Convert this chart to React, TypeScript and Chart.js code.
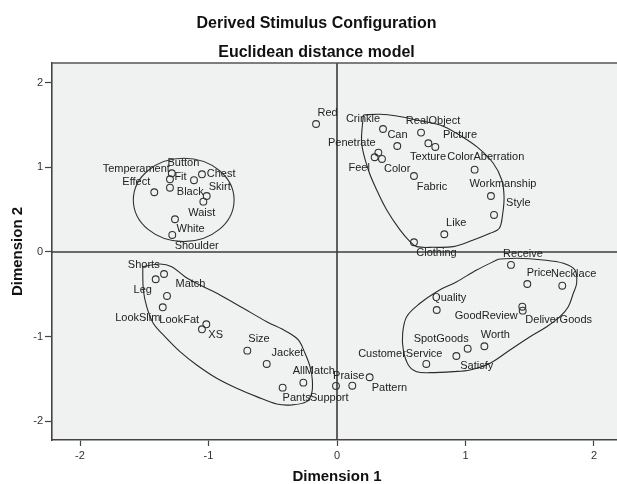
import React, { useEffect, useRef } from "react";
import { Chart, registerables } from "chart.js";

Chart.register(...registerables);

// ---------- data ----------
const titleLines = ["Derived Stimulus Configuration", "Euclidean distance model"];
const xAxisTitle = "Dimension 1";
const yAxisTitle = "Dimension 2";
const tickValues = [-2, -1, 0, 1, 2];

const stimulusNames = [
  "Button", "Temperament", "Black", "Effect", "Fit", "Chest", "Skirt", "Waist", "White", "Shoulder",
  "Red",
  "Crinkle", "Can", "RealObject", "Texture", "Picture", "ColorAberration", "Penetrate", "Feel", "Color",
  "Fabric", "Workmanship", "Style", "Like", "Clothing",
  "Shorts", "Leg", "Match", "LookSlim", "LookFat", "XS", "Size", "Jacket", "AllMatch", "Pants",
  "Support", "Praise", "Pattern",
  "Receive", "Price", "Necklace", "Quality", "GoodReview", "DeliverGoods", "Worth", "SpotGoods", "Satisfy",
  "CustomerService",
];

const dimension1 = [
  -1.286, -1.300, -1.300, -1.422, -1.113, -1.051, -1.014, -1.040, -1.261, -1.282,
  -0.163,
  0.358, 0.469, 0.654, 0.711, 0.765, 1.071, 0.322, 0.293, 0.350,
  0.599, 1.198, 1.222, 0.835, 0.599,
  -1.346, -1.411, -1.323, -1.356, -1.017, -1.051, -0.698, -0.547, -0.262, -0.423,
  -0.008, 0.119, 0.254,
  1.354, 1.481, 1.753, 0.776, 1.442, 1.445, 1.147, 1.017, 0.929,
  0.695,
];

const dimension2 = [
  0.929, 0.858, 0.759, 0.705, 0.847, 0.917, 0.661, 0.594, 0.386, 0.201,
  1.511,
  1.452, 1.251, 1.409, 1.283, 1.240, 0.972, 1.173, 1.118, 1.098,
  0.897, 0.661, 0.437, 0.209, 0.115,
  -0.260, -0.322, -0.519, -0.653, -0.854, -0.913, -1.165, -1.322, -1.543, -1.602,
  -1.582, -1.579, -1.479,
  -0.153, -0.378, -0.398, -0.685, -0.646, -0.693, -1.113, -1.142, -1.228,
  -1.322,
];

// label placement (pixel offsets of the label centre from its point) – styling only
const labelDx = [
  11.6, -33.7, 20.3, -18, -13.5, 19.2, 13, -1.6, 15.7, 24.4,
  11.5,
  -20, 0.2, 12, -0.3, 24.7, 11.1, -26.6, -15.5, 15.2,
  18, 12, 24.3, 11.9, 22.5,
  -20.3, -12.9, 23.5, -25, -27.1, 13.7, 11.7, 20.8, 10.4, 14,
  -6.7, -3.6, 19.8,
  12, 11.9, 11.4, 12.5, -36, 36, 11, -26.5, 20.4,
  -26,
];
const labelDy = [
  -10.6, -10, 4, -10, -3, 0, -9.3, 11, 10, 11,
  -11.3,
  -9.7, -11, -11.4, 14, -12, -12.4, -9.4, 10.4, 10.3,
  10.7, -12, -11.7, -11.6, 10.4,
  -9, 10.7, -11.7, 11, -4.3, 5.7, -11.4, -10.7, -12, 10,
  11.7, -10, 10.7,
  -11, -11.3, -11.7, -11.7, 9.3, 9.3, -11.3, -9.7, 10,
  -10,
];

// cluster outlines (data units)
const outlineUpperRight: [number, number][] = [
  [0.205, 1.617], [0.335, 1.626], [0.465, 1.606], [0.620, 1.558], [0.802, 1.499], [0.930, 1.401],
  [1.087, 1.243], [1.216, 1.047], [1.282, 0.850], [1.300, 0.653], [1.290, 0.457], [1.263, 0.280],
  [1.191, 0.221], [1.061, 0.142], [0.905, 0.063], [0.749, 0.055], [0.620, 0.063], [0.568, 0.122],
  [0.490, 0.260], [0.387, 0.496], [0.309, 0.732], [0.244, 0.968], [0.192, 1.283], [0.205, 1.617],
];
const outlineLowerLeft: [number, number][] = [
  [-1.512, -0.174], [-1.377, -0.142], [-1.286, -0.174], [-1.183, -0.292], [-1.066, -0.390],
  [-0.911, -0.508], [-0.729, -0.665], [-0.547, -0.823], [-0.391, -0.941], [-0.301, -1.039],
  [-0.249, -1.196], [-0.210, -1.354], [-0.192, -1.511], [-0.197, -1.668], [-0.236, -1.767],
  [-0.353, -1.806], [-0.469, -1.795], [-0.625, -1.708], [-0.781, -1.609], [-0.936, -1.491],
  [-1.092, -1.334], [-1.222, -1.177], [-1.339, -1.000], [-1.430, -0.842], [-1.481, -0.646],
  [-1.507, -0.449], [-1.512, -0.174],
];
const outlineLowerRight: [number, number][] = [
  [1.255, -0.086], [1.398, -0.074], [1.605, -0.094], [1.761, -0.133], [1.852, -0.213],
  [1.865, -0.370], [1.839, -0.488], [1.800, -0.646], [1.735, -0.764], [1.632, -0.882],
  [1.502, -1.000], [1.346, -1.157], [1.191, -1.314], [1.035, -1.393], [0.905, -1.413],
  [0.724, -1.425], [0.620, -1.413], [0.555, -1.334], [0.516, -1.157], [0.511, -0.960],
  [0.542, -0.764], [0.646, -0.606], [0.776, -0.469], [0.932, -0.351], [1.087, -0.213],
  [1.255, -0.086],
];
// ellipse around the upper-left cluster (data units)
const ellipseUpperLeft = { cx: -1.193, cy: 0.614, rx: 0.392, ry: 0.492 };

const X_MIN = -2.218;
const X_MAX = 2.179;
const Y_MIN = -2.22;
const Y_MAX = 2.231;

const FONT = '"Liberation Sans", Arial, Helvetica, sans-serif';

const decorPlugin = {
  id: "decor",
  beforeDraw(chart: any) {
    const { ctx, chartArea } = chart;
    ctx.save();
    ctx.fillStyle = "#f0f1f1";
    ctx.fillRect(chartArea.left, chartArea.top, chartArea.right - chartArea.left, chartArea.bottom - chartArea.top);
    ctx.restore();
  },
  beforeDatasetsDraw(chart: any) {
    const { ctx, chartArea, scales } = chart;
    const x0 = scales.x.getPixelForValue(0);
    const y0 = scales.y.getPixelForValue(0);
    ctx.save();
    ctx.strokeStyle = "#3c3c3c";
    ctx.lineWidth = 1.6;
    ctx.beginPath();
    ctx.moveTo(x0, chartArea.top);
    ctx.lineTo(x0, chartArea.bottom);
    ctx.moveTo(chartArea.left, y0);
    ctx.lineTo(chartArea.right, y0);
    ctx.stroke();
    // top frame line
    ctx.strokeStyle = "#555";
    ctx.lineWidth = 1.5;
    ctx.beginPath();
    ctx.moveTo(chartArea.left, chartArea.top);
    ctx.lineTo(chartArea.right, chartArea.top);
    ctx.stroke();
    // ellipse
    const cx = scales.x.getPixelForValue(ellipseUpperLeft.cx);
    const cy = scales.y.getPixelForValue(ellipseUpperLeft.cy);
    const rx = Math.abs(scales.x.getPixelForValue(ellipseUpperLeft.cx + ellipseUpperLeft.rx) - cx);
    const ry = Math.abs(scales.y.getPixelForValue(ellipseUpperLeft.cy + ellipseUpperLeft.ry) - cy);
    ctx.strokeStyle = "#333";
    ctx.lineWidth = 1.1;
    ctx.beginPath();
    ctx.ellipse(cx, cy, rx, ry, 0, 0, Math.PI * 2);
    ctx.stroke();
    ctx.restore();
  },
  afterDatasetsDraw(chart: any) {
    const { ctx, scales } = chart;
    ctx.save();
    ctx.fillStyle = "#222";
    ctx.font = `11px ${FONT}`;
    ctx.textAlign = "center";
    ctx.textBaseline = "middle";
    stimulusNames.forEach((name, i) => {
      const px = scales.x.getPixelForValue(dimension1[i]) + labelDx[i];
      const py = scales.y.getPixelForValue(dimension2[i]) + labelDy[i];
      ctx.fillText(name, px, py);
    });
    ctx.restore();
  },
  afterDraw(chart: any) {
    const { ctx, chartArea, scales } = chart;
    ctx.save();
    ctx.fillStyle = "#111";
    ctx.textAlign = "center";
    ctx.textBaseline = "alphabetic";
    ctx.font = `bold 16px ${FONT}`;
    ctx.fillText(titleLines[0], 316.5, 27.5);
    ctx.fillText(titleLines[1], 316.5, 56.5);
    ctx.font = `bold 15px ${FONT}`;
    ctx.fillText(xAxisTitle, scales.x.getPixelForValue(0), 481);
    ctx.translate(18, (chartArea.top + chartArea.bottom) / 2);
    ctx.rotate(-Math.PI / 2);
    ctx.textBaseline = "middle";
    ctx.fillText(yAxisTitle, 0, 0);
    ctx.restore();
  },
};

export default function App() {
  const ref = useRef<HTMLCanvasElement | null>(null);
  useEffect(() => {
    if (!ref.current) return;
    const toPts = (arr: [number, number][]) => arr.map(([x, y]) => ({ x, y }));
    const outlineStyle = {
      showLine: true,
      borderColor: "#2a2a2a",
      borderWidth: 1.1,
      pointRadius: 0,
      pointHoverRadius: 0,
      tension: 0.35,
      fill: false,
    };
    const chart = new Chart(ref.current, {
      type: "scatter",
      data: {
        datasets: [
          { label: "outline1", data: toPts(outlineUpperRight), ...outlineStyle },
          { label: "outline2", data: toPts(outlineLowerLeft), ...outlineStyle },
          { label: "outline3", data: toPts(outlineLowerRight), ...outlineStyle },
          {
            label: "Stimuli",
            data: stimulusNames.map((_, i) => ({ x: dimension1[i], y: dimension2[i] })),
            pointRadius: 3.4,
            pointHoverRadius: 3.4,
            pointBorderWidth: 1.1,
            pointBorderColor: "#333",
            pointBackgroundColor: "rgba(0,0,0,0)",
            showLine: false,
          } as any,
        ],
      },
      options: {
        animation: false,
        responsive: false,
        devicePixelRatio: 1,
        layout: { autoPadding: false, padding: { top: 63, left: 0, right: 0, bottom: 0 } },
        plugins: {
          legend: { display: false },
          tooltip: { enabled: false },
          title: { display: false },
        },
        events: [],
        scales: {
          x: {
            type: "linear",
            min: X_MIN,
            max: X_MAX,
            afterBuildTicks: (scale: any) => {
              scale.ticks = tickValues.map((v) => ({ value: v }));
            },
            afterFit: (scale: any) => {
              scale.height = 44;
              scale.paddingLeft = 0;
              scale.paddingRight = 0;
            },
            grid: {
              drawOnChartArea: false,
              drawTicks: true,
              tickLength: 6,
              tickColor: "#444",
              tickWidth: 1.2,
            },
            border: { display: true, color: "#444", width: 1.6 },
            ticks: {
              color: "#333",
              font: { family: FONT, size: 11 },
              padding: 3,
              maxRotation: 0,
              callback: (v: any) => String(v),
            },
          },
          y: {
            type: "linear",
            min: Y_MIN,
            max: Y_MAX,
            afterBuildTicks: (scale: any) => {
              scale.ticks = tickValues.map((v) => ({ value: v }));
            },
            afterFit: (scale: any) => {
              scale.width = 52;
              scale.paddingTop = 0;
              scale.paddingBottom = 0;
            },
            grid: {
              drawOnChartArea: false,
              drawTicks: true,
              tickLength: 7,
              tickColor: "#444",
              tickWidth: 1.2,
            },
            border: { display: true, color: "#444", width: 1.6 },
            ticks: {
              color: "#333",
              font: { family: FONT, size: 11 },
              padding: 2,
              callback: (v: any) => String(v),
            },
          },
        },
      },
      plugins: [decorPlugin],
    });
    return () => chart.destroy();
  }, []);

  return (
    <div style={{ position: "absolute", left: 0, top: 0, width: 617, height: 484, background: "#fff" }}>
      <canvas ref={ref} width={617} height={484} style={{ display: "block", width: 617, height: 484 }} />
    </div>
  );
}
